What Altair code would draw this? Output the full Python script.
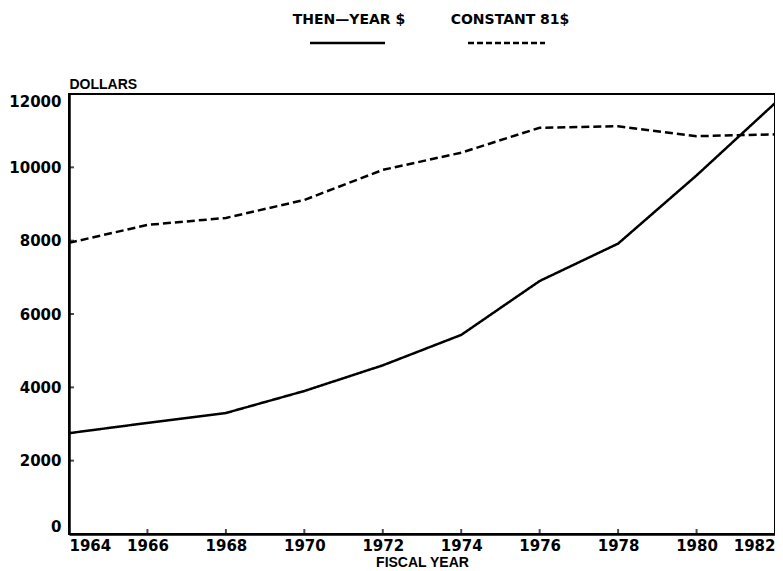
import altair as alt
import pandas as pd

# ---- data ----
years = [1964, 1966, 1968, 1970, 1972, 1974, 1976, 1978, 1980, 1982]
then_year = [2750, 3030, 3300, 3900, 4600, 5430, 6900, 7920, 9780, 11750]
constant_81 = [7940, 8430, 8620, 9110, 9930, 10400, 11080, 11120, 10850, 10900]
series_labels = ["THEN\u2014YEAR $", "CONSTANT 81$"]
y_ticks = [0, 2000, 4000, 6000, 8000, 10000, 12000]
x_ticks = years
y_inner_ticks = [2000, 4000, 6000, 8000, 10000]
x_inner_ticks = [1966, 1968, 1970, 1972, 1974, 1976, 1978, 1980]

FONT = "DejaVu Sans"
TFONT = "Liberation Sans"

df = pd.DataFrame({
    "year": years * 2,
    "value": then_year + constant_81,
    "series": [series_labels[0]] * len(years) + [series_labels[1]] * len(years),
})

xscale = alt.Scale(domain=[1964, 1982], nice=False, zero=False)
yscale = alt.Scale(domain=[0, 12000], nice=False)

lines = alt.Chart(df).mark_line(color="black", strokeWidth=2.5).encode(
    x=alt.X("year:Q", scale=xscale,
            axis=alt.Axis(values=x_ticks, format="d", title="FISCAL YEAR",
                          labelFlush=True, ticks=False, labelPadding=4,
                          titlePadding=2, grid=False)),
    y=alt.Y("value:Q", scale=yscale,
            axis=alt.Axis(values=y_ticks, format="d", title="DOLLARS",
                          titleAngle=0, titleAlign="left", titleX=0, titleY=-6,
                          titleBaseline="alphabetic", labelFlush=True,
                          ticks=False, labelPadding=8, grid=False)),
    strokeDash=alt.StrokeDash("series:N",
                              scale=alt.Scale(domain=series_labels, range=[[1, 0], [8, 4]]),
                              legend=None),
    detail="series:N",
)

ytick_df = pd.DataFrame({"v": y_inner_ticks, "x0": [1964] * len(y_inner_ticks)})
yticks = alt.Chart(ytick_df).mark_tick(orient="horizontal", color="black", size=10,
                                        thickness=2, clip=True).encode(
    x=alt.X("x0:Q", scale=xscale), y=alt.Y("v:Q", scale=yscale))

xtick_df = pd.DataFrame({"v": x_inner_ticks, "y0": [0] * len(x_inner_ticks)})
xticks = alt.Chart(xtick_df).mark_tick(orient="vertical", color="black", size=10,
                                        thickness=2, clip=True).encode(
    x=alt.X("v:Q", scale=xscale), y=alt.Y("y0:Q", scale=yscale))

# ---- legend drawn at the top: label above its line sample ----
leg1_text = alt.Chart(pd.DataFrame({"label": [series_labels[0]]})).mark_text(
    font=FONT, fontWeight="bold", fontSize=14, color="black", align="center",
    baseline="middle").encode(text="label:N", x=alt.value(280), y=alt.value(-74))
leg2_text = alt.Chart(pd.DataFrame({"label": [series_labels[1]]})).mark_text(
    font=FONT, fontWeight="bold", fontSize=14, color="black", align="center",
    baseline="middle").encode(text="label:N", x=alt.value(441), y=alt.value(-74))
leg1_line = alt.Chart(pd.DataFrame({"label": [series_labels[0]]})).mark_rule(
    color="black", strokeWidth=2.5).encode(x=alt.value(241), x2=alt.value(316), y=alt.value(-51))
leg2_line = alt.Chart(pd.DataFrame({"label": [series_labels[1]]})).mark_rule(
    color="black", strokeWidth=2.5, strokeDash=[6, 3]).encode(
    x=alt.value(399), x2=alt.value(476), y=alt.value(-51))

chart = alt.layer(lines, yticks, xticks, leg1_text, leg2_text, leg1_line, leg2_line).properties(
    width=706, height=440,
    autosize=alt.AutoSizeParams(type="none"),
    padding={"left": 61, "top": 86, "right": 0, "bottom": 36},
).configure_view(
    stroke="black", strokeWidth=2,
).configure_axis(
    domainColor="black", domainWidth=2.5,
    labelFont=FONT, labelFontWeight="bold", labelFontSize=15, labelColor="black",
    titleFont=TFONT, titleFontWeight="bold", titleFontSize=14, titleColor="black",
)

chart.save("out.html", embed_options={"renderer": "svg", "actions": False})
